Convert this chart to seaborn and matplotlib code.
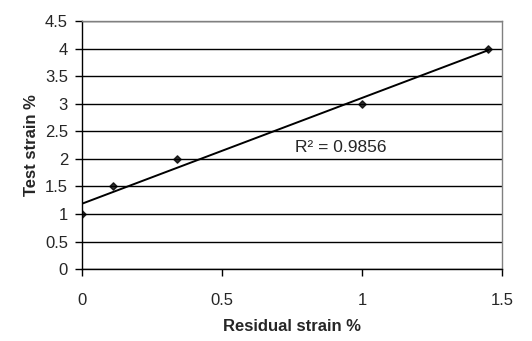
import numpy as np
import pandas as pd
import seaborn as sns
import matplotlib.pyplot as plt

sns.set_style("white")
plt.rcParams['font.family'] = ['Liberation Sans', 'DejaVu Sans']

# data
residual_strain = [0.0, 0.11, 0.34, 1.0, 1.45]
test_strain = [1.0, 1.5, 2.0, 3.0, 4.0]
r2_label = "R² = 0.9856"

df = pd.DataFrame({"residual": residual_strain, "test": test_strain})

fig = plt.figure(figsize=(5.32, 3.41), dpi=100)
ax = fig.add_axes([0.154, 0.211, 0.79, 0.727])

# linear trend line over the data range, plus diamond markers
sns.regplot(data=df, x="residual", y="test", ax=ax, ci=None, truncate=True,
            marker="D", scatter_kws={"s": 14, "color": "black", "zorder": 4},
            line_kws={"color": "black", "lw": 1.4, "zorder": 3})

ax.set_xlim(0, 1.5)
ax.set_ylim(0, 4.5)
ax.set_xticks(np.arange(0, 1.51, 0.5))
ax.set_xticklabels(["0", "0.5", "1", "1.5"])
ax.set_yticks(np.arange(0, 4.51, 0.5))
ax.set_yticklabels(["0", "0.5", "1", "1.5", "2", "2.5", "3", "3.5", "4", "4.5"])

ax.yaxis.grid(True, color="black", lw=1)
ax.set_axisbelow(True)
for s in ["top", "right"]:
    ax.spines[s].set_color("#808080")
    ax.spines[s].set_linewidth(1)
for s in ["left", "bottom"]:
    ax.spines[s].set_color("black")
    ax.spines[s].set_linewidth(1)

ax.tick_params(axis="both", direction="out", length=5, width=1, color="black",
               labelsize=12, bottom=True, left=True)
ax.tick_params(axis="x", pad=12)
ax.tick_params(axis="y", pad=5)

ax.set_xlabel("Residual strain %", fontsize=12, fontweight="bold", labelpad=8)
ax.set_ylabel("Test strain %", fontsize=12, fontweight="bold", labelpad=4)

ax.text(0.76, 2.13, r2_label, fontsize=12.5)

fig.savefig("out.png", dpi=100)
